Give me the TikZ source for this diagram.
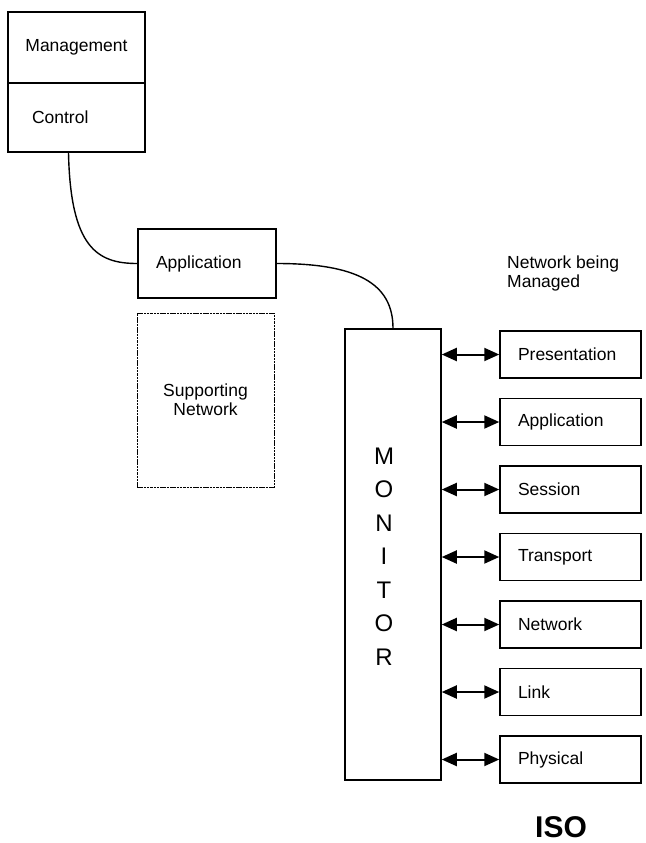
\documentclass[tikz,border=0pt]{standalone}
\usepackage{fontspec}
\setmainfont{Liberation Sans}
\usetikzlibrary{arrows.meta}

\begin{document}
\begin{tikzpicture}[x=1pt, y=-1pt,
    box/.style={draw, line width=1.5pt, inner sep=0pt, font=\fontsize{17.5}{19}\selectfont},
    layer/.style={box, minimum height=47pt, text width=105pt, inner xsep=18pt, align=left},
    wire/.style={line width=1.4pt},
    tip/.tip={Triangle[length=15pt, width=13pt]},
    link/.style={line width=2pt, tip-tip}]
  \useasboundingbox (0,0) rectangle (645,843);
  % upper left stack
  \node (mgmt) [box, minimum width=137pt, minimum height=71pt] at (76.5,47.5) {Management};
  \node (ctrl) [box, minimum height=69pt, text width=89pt, inner xsep=24pt, align=left] at (76.5,117.5) {Control};
  \node (app) [box, minimum height=69pt, text width=102pt, inner xsep=18pt, align=left] at (207,263.5) {Application};
  \node (supnet) [box, line width=1pt, dash pattern=on 2.5pt off 0.8pt, minimum width=137pt, minimum height=174pt, align=center] at (205.5,400) {Supporting\\Network};
  \draw [wire] ([xshift=-8pt]ctrl.south) .. controls +(2,95) and +(-40,0) .. (app.west);
  % monitor
  \node (monitor) [box, minimum width=96pt, minimum height=451pt] at (393,554.5) {};
  \foreach \l [count=\i from 0] in {M,O,N,I,T,O,R}
    \node (mon\i) [font=\fontsize{24}{24}\selectfont] at (384,456+33.5*\i) {\l};
  \draw [wire] (app.east) .. controls +(80,0) and +(0,-45) .. (monitor.north);
  % network being managed
  \node (managed) [anchor=north west, align=left, inner sep=0pt, font=\fontsize{17.5}{19}\selectfont] at (507,256) {Network being\\Managed};
  \foreach \name [count=\i from 0] in {Presentation, Application, Session, Transport, Network, Link, Physical} {
    \node (layer\i) [layer] at (570.5,354.5+67.5*\i) {\name};
    \draw [link] (monitor.east |- layer\i.west) -- (layer\i.west);
  }
  \node (iso) [font=\bfseries\fontsize{30}{30}\selectfont] at (561,827) {ISO};
\end{tikzpicture}
\end{document}
